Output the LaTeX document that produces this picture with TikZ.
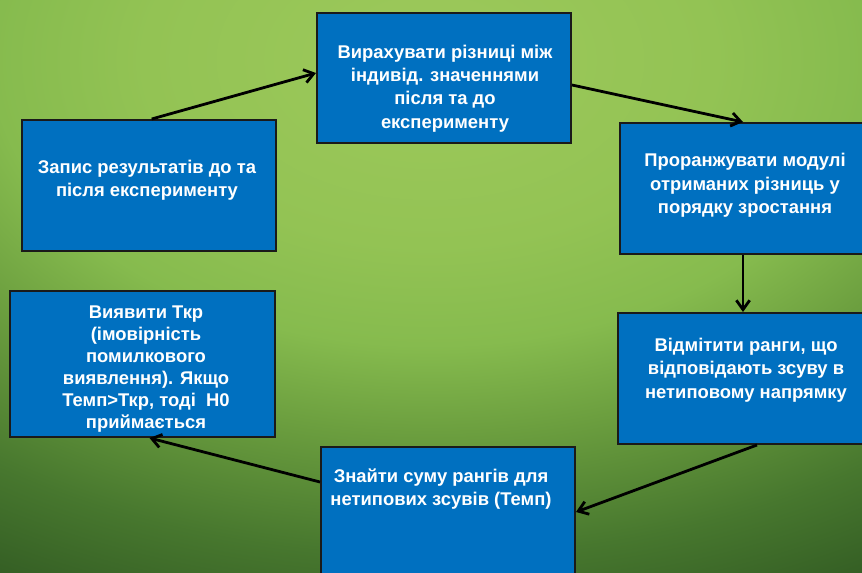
\documentclass[tikz,border=0pt]{standalone}
\usepackage{fontspec}
\setmainfont{Liberation Sans}
\usetikzlibrary{arrows.meta}
\definecolor{bg0}{HTML}{9DC95B}
\definecolor{bg1}{HTML}{93C354}
\definecolor{bg2}{HTML}{86BB4E}
\definecolor{bg3}{HTML}{6C9F3F}
\definecolor{bg4}{HTML}{47772E}
\definecolor{bg5}{HTML}{345E24}
\definecolor{bg6}{HTML}{2C5321}
\definecolor{boxblue}{HTML}{0070C0}
\definecolor{boxline}{HTML}{1A1A1A}
\pgfdeclareradialshading{greenbg}{\pgfpoint{0bp}{0bp}}{%
  color(0bp)=(bg0); color(7.5bp)=(bg1); color(11.5bp)=(bg2);
  color(15bp)=(bg3); color(20bp)=(bg4); color(23.75bp)=(bg5);
  color(25bp)=(bg6); color(50bp)=(bg6)}
\tikzset{
  stepbox/.style={draw=boxline, line width=1.5pt, fill=boxblue, inner sep=0pt},
  steptext/.style={text=white, align=center, inner sep=0pt,
    font=\fontsize{13.8}{17.5}\selectfont\bfseries},
  flow/.style={line width=2.1pt, draw=black, -{Straight Barb[length=7pt,width=10pt]}}
}
\begin{document}
\begin{tikzpicture}[x=0.75pt,y=-0.75pt]
\useasboundingbox (0,0) rectangle (862,572);
\fill[bg6] (-5,-5) rectangle (867,577);
\shade[shading=greenbg] (430,60) ellipse [x radius=950, y radius=620];

\node[stepbox, minimum width=190.5pt, minimum height=97.5pt] (T) at (444,78) {};
\node[stepbox, minimum width=190.5pt, minimum height=98.25pt] (L1) at (149,185.5) {};
\node[stepbox, minimum width=184.5pt, minimum height=98.25pt] (R1) at (743,188.5) {};
\node[stepbox, minimum width=186pt, minimum height=98.25pt] (R2) at (742,378.5) {};
\node[stepbox, minimum width=190.5pt, minimum height=97.5pt] (B) at (448,512) {};
\node[stepbox, minimum width=198.75pt, minimum height=109.5pt] (L2) at (142.5,364) {};

\node[steptext] (tT) at (445,88.5) {Вирахувати різниці між\\індивід. значеннями\\після та до\\експерименту};
\node[steptext] (tL1) at (147,180) {Запис результатів до та\\після експерименту};
\node[steptext] (tR1) at (745,185.5) {Проранжувати модулі\\отриманих різниць у\\порядку зростання};
\node[steptext] (tR2) at (746,370) {Відмітити ранги, що\\відповідають зсуву в\\нетиповому напрямку};
\node[steptext] (tB) at (441,489) {Знайти суму рангів для\\нетипових зсувів (Темп)};
\node[steptext, font=\fontsize{13.8}{16.6}\selectfont\bfseries] (tL2) at (146,369) {Виявити Ткр\\(імовірність\\помилкового\\виявлення). Якщо\\Темп>Ткр, тоді\ \ Н0\\приймається};

\draw[flow] ([xshift=2pt]L1.north) -- ([yshift=3.75pt]T.west);
\draw[flow] ([yshift=-5.25pt]T.east) -- (R1.north);
\draw[flow] (R1.south) -- (R1.south |- R2.north);
\draw[flow] ([xshift=11.25pt]R2.south) -- (B.east);
\draw[flow] ([yshift=22.5pt]B.west) -- ([xshift=5.25pt]L2.south);
\end{tikzpicture}
\end{document}
